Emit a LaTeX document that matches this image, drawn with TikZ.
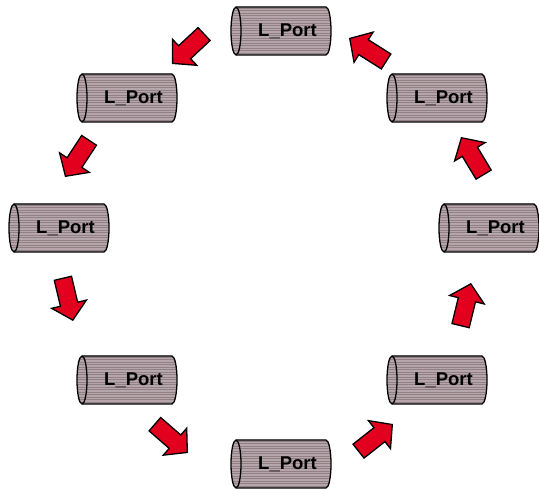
\documentclass[tikz,border=0pt]{standalone}
\usepackage{fontspec}
\setmainfont{Liberation Sans}
\usetikzlibrary{shapes.arrows}

\definecolor{portbase}{RGB}{146,128,133}
\definecolor{portline}{RGB}{180,166,170}
\definecolor{arrred}{RGB}{226,0,30}

\tikzset{
  x=1pt, y=1pt,
  lbl/.style={font=\fontsize{18.5}{18.5}\selectfont\bfseries, inner sep=0pt},
  stripe/.style={portline, line width=1.1pt},
  outline/.style={draw=black, line width=1.3pt},
  flowarrow/.style={single arrow, draw=black, fill=arrred, line width=1.3pt,
    inner xsep=0pt, inner ysep=8.2pt, single arrow head extend=9pt,
    single arrow tip angle=95, minimum height=43pt, anchor=tip},
  % horizontal drum with its open face on the left
  lport/.pic={
    \begin{scope}
      \clip (-45,24) -- (45,24) arc[start angle=90, end angle=-90, x radius=5, y radius=24]
            -- (-45,-24) arc[start angle=270, end angle=90, x radius=5, y radius=24] -- cycle;
      \fill[portbase] (-51,-25) rectangle (51,25);
      \foreach \k in {-23.5,-21,...,24} \draw[stripe] (-51,\k) -- (51,\k);
    \end{scope}
    \draw[outline] (-45,24) -- (45,24) arc[start angle=90, end angle=-90, x radius=5, y radius=24]
            -- (-45,-24) arc[start angle=270, end angle=90, x radius=5, y radius=24] -- cycle;
    \draw[outline] (-45,24) arc[start angle=90, end angle=-90, x radius=5, y radius=24];
    \node[lbl] (-t) at (6.5,0) {L\_Port};
  }
}

\begin{document}
\begin{tikzpicture}
  \useasboundingbox (0,0) rectangle (539,490);

  % the eight ports around the ring
  \pic (p1) at (281,459) {lport};
  \pic (p2) at (127,392) {lport};
  \pic (p3) at (59,262)  {lport};
  \pic (p4) at (127,110) {lport};
  \pic (p5) at (281,26)  {lport};
  \pic (p6) at (437,110) {lport};
  \pic (p7) at (489,262) {lport};
  \pic (p8) at (437,392) {lport};

  % block arrows showing the direction of travel
  \node[flowarrow, rotate=223]   (a1) at (172,426) {};
  \node[flowarrow, rotate=236.7] (a2) at (65,313)  {};
  \node[flowarrow, rotate=283.3] (a3) at (73,169)  {};
  \node[flowarrow, rotate=319]   (a4) at (188,37)  {};
  \node[flowarrow, rotate=38.2]  (a5) at (393,66)  {};
  \node[flowarrow, rotate=76.3]  (a6) at (471,207) {};
  \node[flowarrow, rotate=121]   (a7) at (461,353) {};
  \node[flowarrow, rotate=147.7] (a8) at (349,452) {};
\end{tikzpicture}
\end{document}
